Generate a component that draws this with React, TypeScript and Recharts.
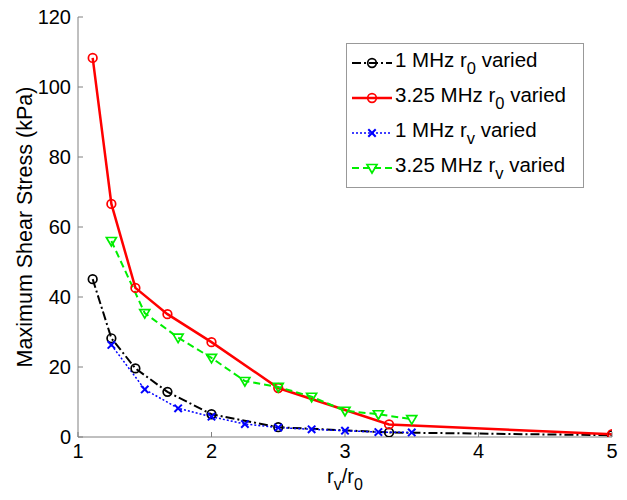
import React from 'react';
import { LineChart, Line, XAxis, YAxis, Legend } from 'recharts';

// rv/r0 positions for the "r0 varied" runs
const xR0Varied = [1.11, 1.25, 1.43, 1.67, 2.0, 2.5, 3.33, 5.0];
// rv/r0 positions for the "rv varied" runs
const xRvVaried = [1.25, 1.5, 1.75, 2.0, 2.25, 2.5, 2.75, 3.0, 3.25, 3.5];

// Maximum shear stress (kPa)
const mhz1R0 = [45.1, 28.2, 19.6, 12.9, 6.5, 2.8, 1.3, 0.5];
const mhz325R0 = [108.3, 66.6, 42.6, 35.1, 27.1, 14.0, 3.6, 0.8];
const mhz1Rv = [26.3, 13.6, 8.2, 5.8, 3.7, 2.7, 2.2, 1.8, 1.4, 1.3];
const mhz325Rv = [56.0, 35.4, 28.4, 22.6, 16.0, 14.3, 11.5, 7.5, 6.5, 5.1];

const xTicks = [1, 2, 3, 4, 5];
const yTicks = [0, 20, 40, 60, 80, 100, 120];

const FONT = '"Liberation Sans", Arial, sans-serif';

const build = (xs: number[], ys: number[]) => xs.map((x, i) => ({ x, y: ys[i] }));

type Marker = 'circle' | 'cross' | 'tri';
const series = [
  { key: 'a', data: build(xR0Varied, mhz1R0), color: '#000000', dash: '9 3 2 3', width: 2, marker: 'circle' as Marker, pre: '1 MHz r', sub: '0' },
  { key: 'b', data: build(xR0Varied, mhz325R0), color: '#ff0000', dash: undefined, width: 2.5, marker: 'circle' as Marker, pre: '3.25 MHz r', sub: '0' },
  { key: 'c', data: build(xRvVaried, mhz1Rv), color: '#0000ff', dash: '2 2', width: 1.5, marker: 'cross' as Marker, pre: '1 MHz r', sub: 'v' },
  { key: 'd', data: build(xRvVaried, mhz325Rv), color: '#00ee00', dash: '7 4', width: 2, marker: 'tri' as Marker, pre: '3.25 MHz r', sub: 'v' },
];

const drawMarker = (m: Marker, cx: number, cy: number, color: string, k?: string | number) => {
  if (m === 'circle') return <circle key={k} cx={cx} cy={cy} r={4.3} fill="none" stroke={color} strokeWidth={1.7} />;
  if (m === 'cross')
    return (
      <g key={k} stroke={color} strokeWidth={2}>
        <line x1={cx - 3.7} y1={cy - 3.7} x2={cx + 3.7} y2={cy + 3.7} />
        <line x1={cx - 3.7} y1={cy + 3.7} x2={cx + 3.7} y2={cy - 3.7} />
      </g>
    );
  return (
    <polygon key={k} points={`${cx - 5},${cy - 3.5} ${cx + 5},${cy - 3.5} ${cx},${cy + 5}`} fill="none" stroke={color} strokeWidth={1.7} />
  );
};

const makeDot = (m: Marker, color: string) => (props: any) => {
  const { cx, cy, index } = props;
  if (cx == null || cy == null) return <g key={index} />;
  return drawMarker(m, cx, cy, color, index);
};

const YTick = (props: any) => {
  const { x, y, payload } = props;
  return (
    <g>
      <line x1={x + 7} y1={y} x2={x + 12} y2={y} stroke="#808080" strokeWidth={1} />
      <text x={x} y={y} dy="0.35em" textAnchor="end" fontSize={20} fontFamily={FONT} fill="#000">
        {payload.value}
      </text>
    </g>
  );
};

const XTick = (props: any) => {
  const { x, y, payload } = props;
  return (
    <g>
      <line x1={x} y1={y - 8} x2={x} y2={y - 13} stroke="#808080" strokeWidth={1} />
      <text x={x} y={y} dy={13} textAnchor="middle" fontSize={20} fontFamily={FONT} fill="#000">
        {payload.value}
      </text>
    </g>
  );
};

const YLabel = (props: any) => {
  const { viewBox } = props;
  const cx = viewBox.x + 32;
  const cy = viewBox.y + viewBox.height / 2;
  return (
    <text x={cx} y={cy} transform={`rotate(-90 ${cx} ${cy})`} textAnchor="middle" fontSize={21.5} fontFamily={FONT} fill="#000">
      Maximum Shear Stress (kPa)
    </text>
  );
};

const XLabel = (props: any) => {
  const { viewBox } = props;
  const cx = viewBox.x + viewBox.width / 2;
  const cy = viewBox.y + 46;
  return (
    <text x={cx} y={cy} textAnchor="middle" fontSize={20} fontFamily={FONT} fill="#000">
      r<tspan dy={7} fontSize={16}>v</tspan>
      <tspan dy={-7}>/r</tspan>
      <tspan dy={7} fontSize={16}>0</tspan>
    </text>
  );
};

const LegendBox = () => (
  <svg width={238} height={145} style={{ display: 'block' }}>
    <rect x={0.5} y={0.5} width={237} height={144} fill="#ffffff" stroke="#999999" strokeWidth={1} />
    {series.map((s, i) => {
      const ly = 20 + i * 35;
      return (
        <g key={s.key}>
          <line x1={6} y1={ly} x2={46} y2={ly} stroke={s.color} strokeWidth={s.width} strokeDasharray={s.dash} />
          {drawMarker(s.marker, 26, ly, s.color)}
          <text x={49} y={ly + 4} fontSize={20.5} fontFamily={FONT} fill="#000">
            {s.pre}
            <tspan dy={7} fontSize={16.5}>{s.sub}</tspan>
            <tspan dy={-7}> varied</tspan>
          </text>
        </g>
      );
    })}
  </svg>
);

export default function App() {
  return (
    <div style={{ position: 'absolute', left: 0, top: 0, width: 627, height: 500, background: '#fff' }}>
      <LineChart width={627} height={500} margin={{ top: 17, right: 15, bottom: 0, left: 0 }}>
        <XAxis
          dataKey="x"
          type="number"
          domain={[1, 5]}
          ticks={xTicks}
          allowDataOverflow
          height={63}
          tickSize={0}
          tickMargin={8}
          tickLine={false}
          tick={<XTick />}
          stroke="#808080"
          label={{ content: <XLabel /> }}
        />
        <YAxis
          type="number"
          domain={[0, 120]}
          ticks={yTicks}
          allowDataOverflow
          width={78}
          tickSize={0}
          tickMargin={7}
          tickLine={false}
          tick={<YTick />}
          stroke="#808080"
          label={{ content: <YLabel /> }}
        />
        <Legend
          layout="vertical"
          align="center"
          verticalAlign="middle"
          content={<LegendBox />}
          wrapperStyle={{ position: 'absolute', left: 346, top: 43, width: 238, height: 145 }}
        />
        {series.map((s) => (
          <Line
            key={s.key}
            data={s.data}
            dataKey="y"
            type="linear"
            stroke={s.color}
            strokeWidth={s.width}
            strokeDasharray={s.dash}
            dot={makeDot(s.marker, s.color)}
            activeDot={false}
            isAnimationActive={false}
          />
        ))}
      </LineChart>
    </div>
  );
}
